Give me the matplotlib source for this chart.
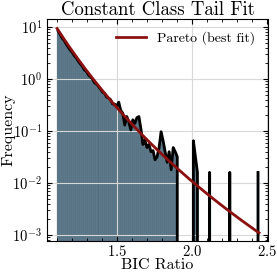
import matplotlib
matplotlib.use("Agg")
import matplotlib.pyplot as plt
import numpy as np

plt.rcParams["font.family"] = "serif"
plt.rcParams["font.serif"] = ["cmr10", "DejaVu Serif"]
plt.rcParams["mathtext.fontset"] = "cm"
plt.rcParams["axes.unicode_minus"] = False
plt.rcParams["axes.formatter.use_mathtext"] = True

# histogram of BIC ratios (density), 100 bins between min and max
bic_min = 1.10
bic_max = 2.45
n_bins = 100
density = [
    8.4, 7.2, 6.1, 5.5, 4.7, 4.1, 3.6, 3.25, 2.8, 2.55,
    2.2, 1.95, 1.75, 1.5, 1.4, 1.2, 1.1, 1.0, 0.85, 0.8,
    0.72, 0.64, 0.56, 0.53, 0.45, 0.43, 0.40, 0.33, 0.33, 0.30,
    0.36, 0.25, 0.22, 0.13, 0.19, 0.15, 0.105, 0.165, 0.14, 0.18,
    0.19, 0.11, 0.055, 0.067, 0.048, 0.055, 0.04, 0.042, 0.028, 0.032,
    0.048, 0.097, 0.065, 0.04, 0.025, 0.04, 0.018, 0.048, 0.04, 0.032,
    0, 0, 0, 0, 0, 0, 0, 0.065, 0.032, 0.016,
    0, 0, 0, 0, 0, 0.016, 0, 0, 0, 0,
    0, 0, 0, 0, 0, 0.016, 0, 0, 0, 0,
    0, 0, 0, 0, 0, 0, 0, 0, 0, 0.016,
]

# pareto best fit parameters
pareto_shape = 10.3
pareto_scale = 1.10

edges = np.linspace(bic_min, bic_max, n_bins + 1)
centers = 0.5 * (edges[1:] + edges[:-1])
density = np.array(density)

fig = plt.figure(figsize=(2.77, 2.75), dpi=100)
ax = fig.add_axes([0.170, 0.124, 0.7975, 0.807])

ax.bar(edges[:-1], density, width=np.diff(edges), align="edge",
       color="#56707f", edgecolor="#6f93a8", linewidth=0.2)
ax.plot(centers, density, color="k", linewidth=2)

xp = np.linspace(bic_min, bic_max, 300)
pdf = pareto_shape * pareto_scale**pareto_shape / xp**(pareto_shape + 1)
ax.plot(xp, pdf, color="#8b1010", linewidth=2, label="Pareto (best fit)")

ax.set_yscale("log")
ax.set_xlim(1.033, 2.51)
ax.set_ylim(7.7e-4, 14.3)
ax.set_xticks([1.5, 2.0, 2.5])
ax.xaxis.set_minor_locator(matplotlib.ticker.MultipleLocator(0.1))

ax.grid(True, which="major", color="#d8d8d8", linewidth=0.8)
ax.tick_params(which="both", direction="in", top=True, right=True, labelsize=10.5)
ax.tick_params(which="major", length=3.5)
ax.tick_params(which="minor", length=2)
ax.tick_params(axis="x", pad=2.5)

ax.set_title("Constant Class Tail Fit", fontsize=13.5, pad=3)
ax.set_xlabel("BIC Ratio", fontsize=11.5)
ax.set_ylabel("Frequency", fontsize=11.5)
ax.xaxis.set_label_coords(0.5, -0.08)
ax.yaxis.set_label_coords(-0.145, 0.5)
ax.legend(loc="upper right", frameon=False, fontsize=10, handlelength=2.2)

plt.savefig("out.png")
